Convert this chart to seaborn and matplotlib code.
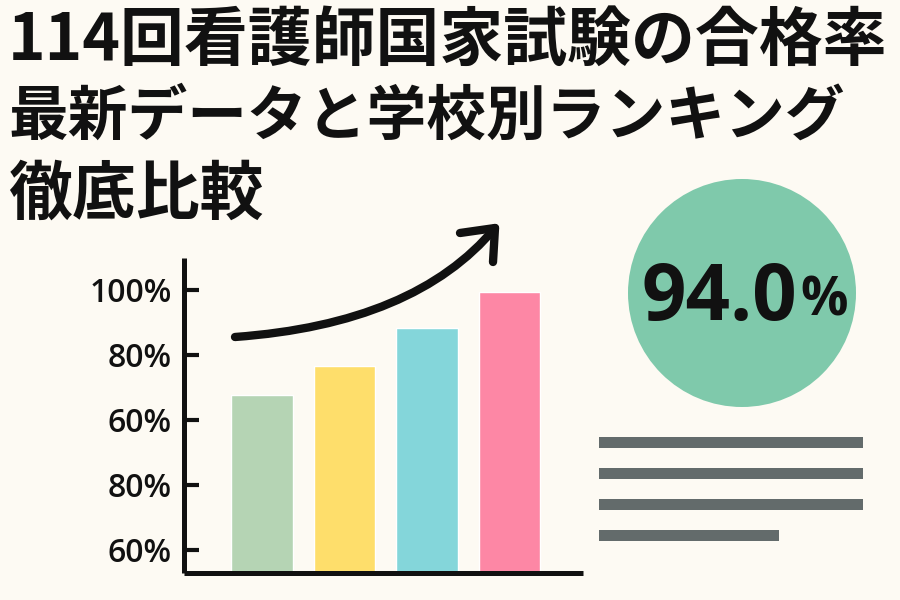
import matplotlib
matplotlib.use("Agg")
import matplotlib.pyplot as plt
from matplotlib.patches import Circle, Rectangle, PathPatch
from matplotlib.path import Path
from matplotlib.lines import Line2D
import pandas as pd
import seaborn as sns

# データ
title_lines = ["114回看護師国家試験の合格率", "最新データと学校別ランキング", "徹底比較"]
title_sizes = [46, 43, 46]
categories = ["A", "B", "C", "D"]
pass_rates = [83.8, 88.3, 94.2, 99.7]
bar_colors = ["#b5d4b4", "#fede6b", "#84d6da", "#fd87a5"]
tick_values = [60, 70, 80, 90, 100]
tick_labels = ["60%", "80%", "60%", "80%", "100%"]
highlight_rate = 94.0
text_line_lengths = [1.0, 1.0, 1.0, 0.68]

BG = "#fdfaf3"
INK = "#111111"
JP = ["Noto Sans CJK JP", "DejaVu Sans"]
LATIN = ["Open Sans", "DejaVu Sans"]

sns.set_theme(style="ticks")
plt.rcParams["font.family"] = JP

fig = plt.figure(figsize=(9, 6), dpi=100, facecolor=BG)

# 棒グラフ
ax = fig.add_axes([184 / 900, 27 / 600, 399 / 900, 315 / 600])
ax.set_facecolor(BG)
df = pd.DataFrame({"cat": categories, "rate": pass_rates})
sns.barplot(data=df, x="cat", y="rate", hue="cat", palette=bar_colors,
            width=0.74, saturation=1, legend=False, ax=ax)
ax.set_ylim(56.46, 104.9)
ax.set_xlim(-0.945, 3.89)
ax.set_yticks(tick_values, tick_labels)
ax.set_xticks([])
ax.set_xlabel("")
ax.set_ylabel("")
sns.despine(ax=ax)
for side in ("left", "bottom"):
    ax.spines[side].set_linewidth(3.6)
    ax.spines[side].set_color(INK)
    ax.spines[side].set_capstyle("butt")
ax.tick_params(axis="y", direction="in", length=11, width=3, pad=9,
               labelsize=23, color=INK, labelcolor=INK)
for lab in ax.get_yticklabels():
    lab.set_fontfamily(LATIN)
    lab.set_fontweight("semibold")

# 装飾レイヤー（ピクセル座標）
deco = fig.add_axes([0, 0, 1, 1])
deco.set_xlim(0, 900)
deco.set_ylim(600, 0)
deco.axis("off")
deco.patch.set_alpha(0)

for i, (line, size) in enumerate(zip(title_lines, title_sizes)):
    deco.text(8, 41 + i * 77, line, fontsize=size, fontweight="bold",
              family=JP, color=INK, va="center", ha="left")

# 上昇矢印
curve = Path([(235, 337), (415, 324), (495, 228)],
             [Path.MOVETO, Path.CURVE3, Path.CURVE3])
deco.add_patch(PathPatch(curve, fill=False, lw=6, color=INK, capstyle="round"))
deco.add_line(Line2D([460, 495, 493], [233, 228, 262], lw=6, color=INK,
                     solid_capstyle="round", solid_joinstyle="round"))

# 合格率の円
deco.add_patch(Circle((742, 293), 114, color="#7fc9ab", lw=0))
deco.text(797, 320, f"{highlight_rate:.1f}", fontsize=56, fontweight="bold",
          family=LATIN, color=INK, ha="right", va="baseline")
deco.text(800, 316, "%", fontsize=38, fontweight="bold",
          family=LATIN, color=INK, ha="left", va="baseline")

# テキスト行のプレースホルダー
for i, frac in enumerate(text_line_lengths):
    y = 442 + i * 31.3
    deco.add_patch(Rectangle((599, y - 5.5), 264 * frac, 11,
                             color="#636b6b", lw=0))

fig.savefig("out.png", dpi=100, facecolor=BG)
